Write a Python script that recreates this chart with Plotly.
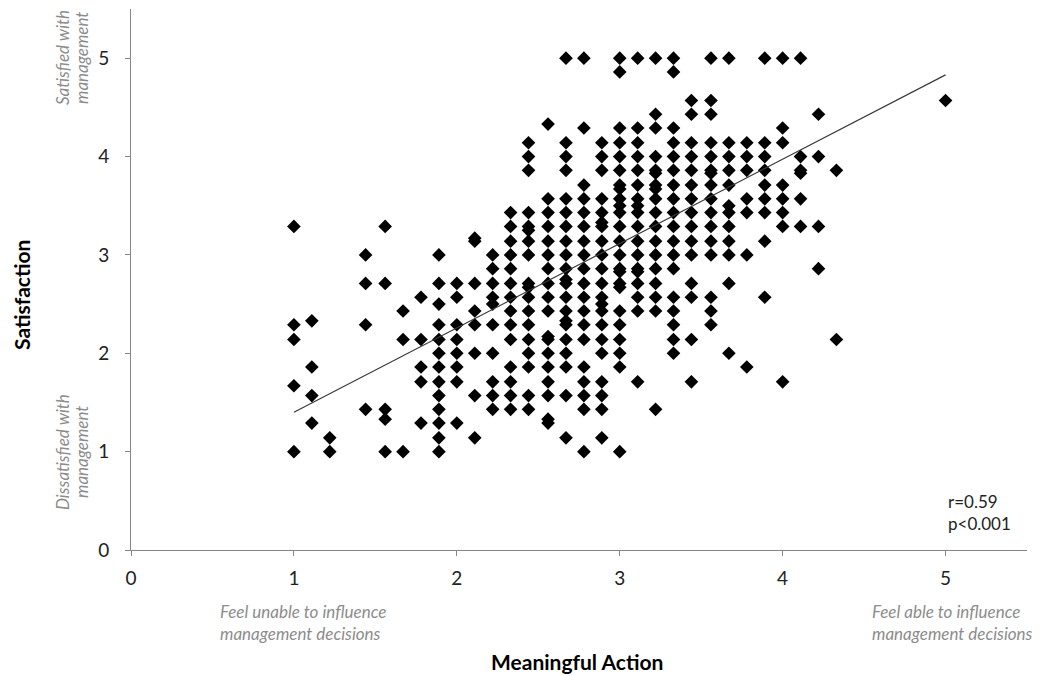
import plotly.graph_objects as go

# Satisfaction scores observed at each Meaningful Action level
ma_100 = [1.0, 1.67, 2.14, 2.29, 3.29]
ma_111 = [1.29, 1.57, 1.86, 2.33]
ma_122 = [1.0, 1.14]
ma_144 = [1.43, 2.29, 2.71, 3.0]
ma_156 = [1.0, 1.33, 1.43, 2.71, 3.29]
ma_167 = [1.0, 2.14, 2.43]
ma_178 = [1.29, 1.71, 1.86, 2.14, 2.57]
ma_189 = [1.0, 1.14, 1.29, 1.43, 1.57, 1.71, 1.86, 2.0, 2.14, 2.29, 2.5, 2.71, 3.0]
ma_200 = [1.29, 1.71, 1.86, 2.0, 2.14, 2.29, 2.57, 2.71]
ma_211 = [1.14, 1.57, 2.0, 2.29, 2.43, 2.71, 3.14, 3.17]
ma_222 = [1.43, 1.57, 1.71, 2.0, 2.29, 2.5, 2.57, 2.71, 2.86, 3.0]
ma_233 = [1.43, 1.57, 1.71, 1.86, 2.14, 2.29, 2.43, 2.57, 2.71, 2.86, 3.0, 3.14, 3.29, 3.43]
ma_244 = [1.43, 1.57, 1.86, 2.0, 2.14, 2.29, 2.43, 2.57, 2.67, 2.71, 3.0, 3.14, 3.25,
          3.29, 3.43, 3.86, 4.0, 4.14]
ma_256 = [1.29, 1.33, 1.57, 1.71, 1.86, 2.0, 2.14, 2.17, 2.43, 2.57, 2.71, 2.86, 3.0,
          3.14, 3.29, 3.43, 3.57, 4.33]
ma_267 = [1.14, 1.57, 1.86, 2.0, 2.14, 2.29, 2.33, 2.43, 2.57, 2.71, 2.75, 2.86, 3.0,
          3.14, 3.29, 3.43, 3.57, 3.86, 4.0, 4.14, 5.0]
ma_278 = [1.0, 1.43, 1.57, 1.71, 1.86, 2.14, 2.29, 2.43, 2.57, 2.71, 2.86, 3.0, 3.14,
          3.29, 3.43, 3.57, 3.71, 4.29, 5.0]
ma_289 = [1.14, 1.43, 1.57, 1.71, 2.0, 2.14, 2.29, 2.43, 2.5, 2.57, 2.71, 2.86, 3.0,
          3.14, 3.29, 3.33, 3.43, 3.57, 3.86, 4.0, 4.14]
ma_300 = [1.0, 1.86, 2.0, 2.14, 2.29, 2.43, 2.67, 2.71, 2.83, 2.86, 3.0, 3.14, 3.29,
          3.43, 3.5, 3.57, 3.67, 3.71, 3.86, 4.0, 4.14, 4.29, 4.86, 5.0]
ma_311 = [1.71, 2.43, 2.57, 2.71, 2.83, 2.86, 3.0, 3.14, 3.29, 3.43, 3.5, 3.57, 3.71,
          3.86, 4.0, 4.14, 4.29, 5.0]
ma_322 = [1.43, 2.43, 2.57, 2.71, 2.86, 3.0, 3.14, 3.29, 3.43, 3.57, 3.67, 3.71, 3.83,
          3.86, 4.0, 4.29, 4.43, 5.0]
ma_333 = [2.0, 2.14, 2.29, 2.43, 2.57, 2.86, 3.0, 3.14, 3.29, 3.43, 3.57, 3.71, 3.86,
          4.0, 4.14, 4.29, 4.86, 5.0]
ma_344 = [1.71, 2.14, 2.57, 2.71, 3.0, 3.14, 3.29, 3.43, 3.57, 3.71, 3.86, 4.0, 4.14,
          4.43, 4.57]
ma_356 = [2.29, 2.43, 2.57, 3.0, 3.14, 3.29, 3.43, 3.57, 3.71, 3.83, 3.86, 4.0, 4.14,
          4.43, 4.57, 5.0]
ma_367 = [2.0, 2.71, 3.0, 3.14, 3.29, 3.43, 3.5, 3.71, 3.86, 4.0, 4.14, 5.0]
ma_378 = [1.86, 3.0, 3.43, 3.57, 3.86, 4.0, 4.14]
ma_389 = [2.57, 3.14, 3.43, 3.57, 3.71, 3.86, 4.0, 4.14, 5.0]
ma_400 = [1.71, 3.29, 3.43, 3.57, 3.71, 4.14, 4.29, 5.0]
ma_411 = [3.29, 3.57, 3.83, 3.86, 4.0, 5.0]
ma_422 = [2.86, 3.29, 4.0, 4.43]
ma_433 = [2.14, 3.86]
ma_500 = [4.57]

action_levels = [1.0, 1.11, 1.22, 1.44, 1.56, 1.67, 1.78, 1.89, 2.0, 2.11, 2.22,
                 2.33, 2.44, 2.56, 2.67, 2.78, 2.89, 3.0, 3.11, 3.22, 3.33, 3.44,
                 3.56, 3.67, 3.78, 3.89, 4.0, 4.11, 4.22, 4.33, 5.0]
satisfaction_columns = [ma_100, ma_111, ma_122, ma_144, ma_156, ma_167, ma_178,
                        ma_189, ma_200, ma_211, ma_222, ma_233, ma_244, ma_256,
                        ma_267, ma_278, ma_289, ma_300, ma_311, ma_322, ma_333,
                        ma_344, ma_356, ma_367, ma_378, ma_389, ma_400, ma_411,
                        ma_422, ma_433, ma_500]

# Linear fit endpoints (r = 0.59)
trend_x = [1.0, 5.0]
trend_y = [1.40, 4.83]

tick_vals = [0, 1, 2, 3, 4, 5]
tick_text = ["0", "1", "2", "3", "4", "5"]

xs, ys = [], []
for level, scores in zip(action_levels, satisfaction_columns):
    xs.extend([level] * len(scores))
    ys.extend(scores)

FONT = "Lato"
AXIS_GREY = "#868686"
NOTE_GREY = "#8c8c8c"

ML, MR, MT, MB = 131, 13, 9, 126
W, H = 1040, 676
PW, PH = W - ML - MR, H - MT - MB


def px(x_pixel):
    """Horizontal page pixel -> paper coordinate."""
    return (x_pixel - ML) / PW


def py(y_pixel):
    """Vertical page pixel -> paper coordinate."""
    return (H - MB - y_pixel) / PH


fig = go.Figure()
fig.add_trace(go.Scatter(
    x=xs, y=ys, mode="markers",
    marker=dict(symbol="diamond", size=10.5, color="black", line=dict(width=0)),
    hoverinfo="x+y", showlegend=False, cliponaxis=False,
))
fig.add_trace(go.Scatter(
    x=trend_x, y=trend_y, mode="lines",
    line=dict(color="#3a3a3a", width=1.2), showlegend=False, hoverinfo="skip",
))

axis_common = dict(
    showline=True, linecolor=AXIS_GREY, linewidth=1,
    ticks="outside", ticklen=5, tickcolor=AXIS_GREY, tickwidth=1,
    showgrid=False, zeroline=False, range=[0, 5.5],
    tickvals=tick_vals, ticktext=tick_text,
    tickfont=dict(family=FONT, size=19, color="#222222"),
    fixedrange=True,
)

fig.update_layout(
    width=W, height=H,
    margin=dict(l=ML, r=MR, t=MT, b=MB),
    plot_bgcolor="white", paper_bgcolor="white",
    xaxis=dict(**axis_common, ticklabelstandoff=6),
    yaxis=dict(**axis_common, ticklabelstandoff=12),
    font=dict(family=FONT),
)

ann = []
# Axis titles
title_font = dict(size=21, color="black", family=FONT)
ann.append(dict(text="<b>Meaningful Action</b>", x=px(577), y=py(661),
                font=title_font))
ann.append(dict(text="<b>Satisfaction</b>", x=px(21), y=py(295), textangle=-90,
                font=title_font))

# Scale anchors on the x axis
note_font = dict(size=17, color=NOTE_GREY, family=FONT)
ann.append(dict(text="<i>Feel unable to influence</i>", x=px(218), y=py(611),
                xanchor="left", font=note_font))
ann.append(dict(text="<i>management decisions</i>", x=px(218), y=py(633),
                xanchor="left", font=note_font))
ann.append(dict(text="<i>Feel able to influence</i>", x=px(870), y=py(611),
                xanchor="left", font=note_font))
ann.append(dict(text="<i>management decisions</i>", x=px(870), y=py(633),
                xanchor="left", font=note_font))

# Scale anchors on the y axis
ann.append(dict(text="<i>Satisfied with</i>", x=px(62), y=py(58), textangle=-90,
                font=note_font))
ann.append(dict(text="<i>management</i>", x=px(81), y=py(58), textangle=-90,
                font=note_font))
ann.append(dict(text="<i>Dissatisfied with</i>", x=px(62), y=py(452), textangle=-90,
                font=note_font))
ann.append(dict(text="<i>management</i>", x=px(81), y=py(452), textangle=-90,
                font=note_font))

# Correlation statistics
stat_font = dict(size=17, color="#222222", family=FONT)
ann.append(dict(text="r=0.59", x=px(946), y=py(501), xanchor="left", font=stat_font))
ann.append(dict(text="p&lt;0.001", x=px(946), y=py(523), xanchor="left", font=stat_font))

for a in ann:
    a.setdefault("xanchor", "center")
    a.update(xref="paper", yref="paper", yanchor="middle", showarrow=False)
fig.update_layout(annotations=ann)

fig.write_html("out.html")
